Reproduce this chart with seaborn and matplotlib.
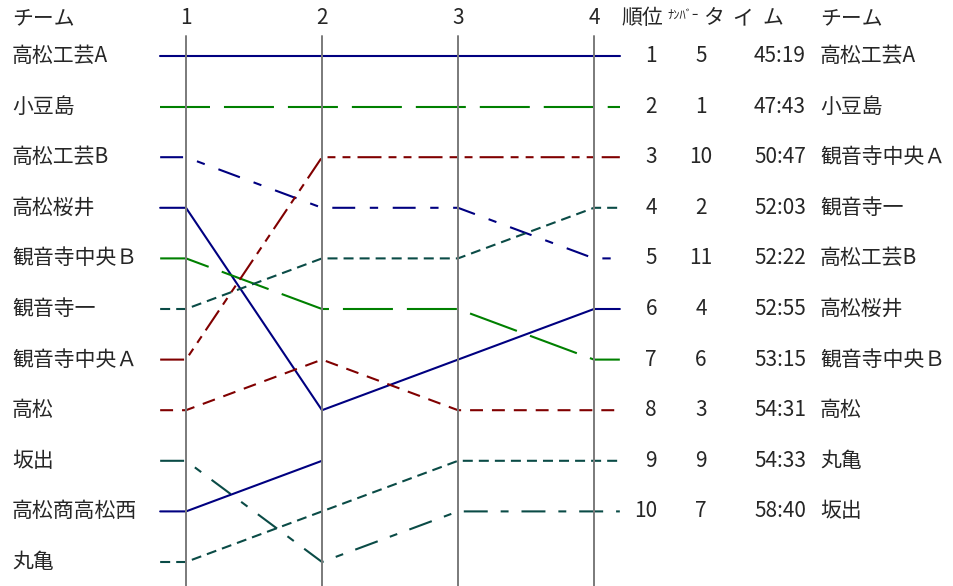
import matplotlib
matplotlib.use("Agg")
import matplotlib.pyplot as plt
import pandas as pd
import seaborn as sns

# Data: teams in stage-1 order and their rank after each stage (None = dropped out)
teams = ['高松工芸A', '小豆島', '高松工芸B', '高松桜井', '観音寺中央Ｂ', '観音寺一',
         '観音寺中央Ａ', '高松', '坂出', '高松商高松西', '丸亀']
rank_s1 = [1, 2, 3, 4, 5, 6, 7, 8, 9, 10, 11]
rank_s2 = [1, 2, 4, 8, 6, 5, 3, 7, 11, 9, 10]
rank_s3 = [1, 2, 4, 7, 6, 5, 3, 8, 10, None, 9]
rank_s4 = [1, 2, 5, 6, 7, 4, 3, 8, 10, None, 9]
stages = [1, 2, 3, 4]

# Final result table
final_rank = [1, 2, 3, 4, 5, 6, 7, 8, 9, 10]
final_number = [5, 1, 10, 2, 11, 4, 6, 3, 9, 7]
final_time = ['45:19', '47:43', '50:47', '52:03', '52:22', '52:55', '53:15', '54:31', '54:33', '58:40']
final_team = ['高松工芸A', '小豆島', '観音寺中央Ａ', '観音寺一', '高松工芸B', '高松桜井',
              '観音寺中央Ｂ', '高松', '丸亀', '坂出']

# Styles
navy, green, red, teal = '#000080', '#008000', '#800000', '#0a4b46'
palette = {'高松工芸A': navy, '小豆島': green, '高松工芸B': navy, '高松桜井': navy,
           '観音寺中央Ｂ': green, '観音寺一': teal, '観音寺中央Ａ': red, '高松': red,
           '坂出': teal, '高松商高松西': navy, '丸亀': teal}
long_dash = (24, 6.7)
short_dash = (4.8, 2.9)
dashes = {'高松工芸A': '', '小豆島': long_dash, '高松工芸B': (11, 7, 4, 7),
          '高松桜井': '', '観音寺中央Ｂ': long_dash, '観音寺一': short_dash,
          '観音寺中央Ａ': (11.5, 3.4, 3.8, 3.4, 3.8, 3.4), '高松': (6.2, 4.3),
          '坂出': (11.5, 6.2, 3.8, 6.2), '高松商高松西': '', '丸亀': short_dash}
stub = 0.19

# Build long-form data incl. short stubs before stage 1 and after stage 4
rows = []
ranks = list(zip(rank_s1, rank_s2, rank_s3, rank_s4))
for team, rr in zip(teams, ranks):
    rows.append({'team': team, 'x': stages[0] - stub, 'rank': rr[0]})
    last = None
    for s, r in zip(stages, rr):
        if r is None:
            break
        rows.append({'team': team, 'x': s, 'rank': r})
        last = (s, r)
    if last[0] == stages[-1]:
        rows.append({'team': team, 'x': stages[-1] + stub, 'rank': last[1]})
df = pd.DataFrame(rows)

sns.set_style("white")
plt.rcParams['font.family'] = ['Noto Sans CJK JP', 'DejaVu Sans']

W, H = 954, 586
fig = plt.figure(figsize=(W / 100, H / 100), dpi=100)
ax = fig.add_axes([0, 0, 1, 1])

# map pixel layout: stage 1 at x=186px, 136px per stage; rank 1 at y=56px, 50.6px per rank
ax.set_xlim(1 - 186 / 136, 1 + (W - 186) / 136)
ax.set_ylim(1 + (H - 56) / 50.6, 1 - 56 / 50.6)
ax.axis('off')

sns.lineplot(data=df, x='x', y='rank', hue='team', style='team', palette=palette,
             dashes=dashes, sort=False, estimator=None, legend=False, lw=1.5, ax=ax)

for s in stages:
    ax.axvline(s, ymin=0, ymax=1 - 36 / H, color='#7a7a7a', lw=1.4, zorder=5)

fs = 15
xt = ax.get_xaxis_transform()
yt = ax.get_yaxis_transform()
top = 1 - 18 / H

# headers
ax.text(12 / W, top, 'チーム', transform=ax.transAxes, fontsize=fs, va='center')
for s in stages:
    ax.text(s, top, str(s), transform=xt, fontsize=fs, va='center', ha='center')
ax.text(621 / W, top, '順位', transform=ax.transAxes, fontsize=fs, va='center')
ax.text(667 / W, 1 - 15 / H, 'ﾅﾝﾊﾞｰ', transform=ax.transAxes, fontsize=9, va='center')
for ch, cx in zip('タイム', [714, 743, 773]):
    ax.text(cx / W, top, ch, transform=ax.transAxes, fontsize=fs, va='center', ha='center')
ax.text(820 / W, top, 'チーム', transform=ax.transAxes, fontsize=fs, va='center')

# left team names
for team, r in zip(teams, rank_s1):
    ax.text(12 / W, r, team, transform=yt, fontsize=fs, va='center')

# right result table
for r, n, t, team in zip(final_rank, final_number, final_time, final_team):
    ax.text(657 / W, r, str(r), transform=yt, fontsize=fs, va='center', ha='right')
    ax.text(701 / W, r, str(n), transform=yt, fontsize=fs, va='center', ha='center')
    ax.text(806 / W, r, t, transform=yt, fontsize=fs, va='center', ha='right')
    ax.text(820 / W, r, team, transform=yt, fontsize=fs, va='center')

fig.savefig('out.png', dpi=100)
